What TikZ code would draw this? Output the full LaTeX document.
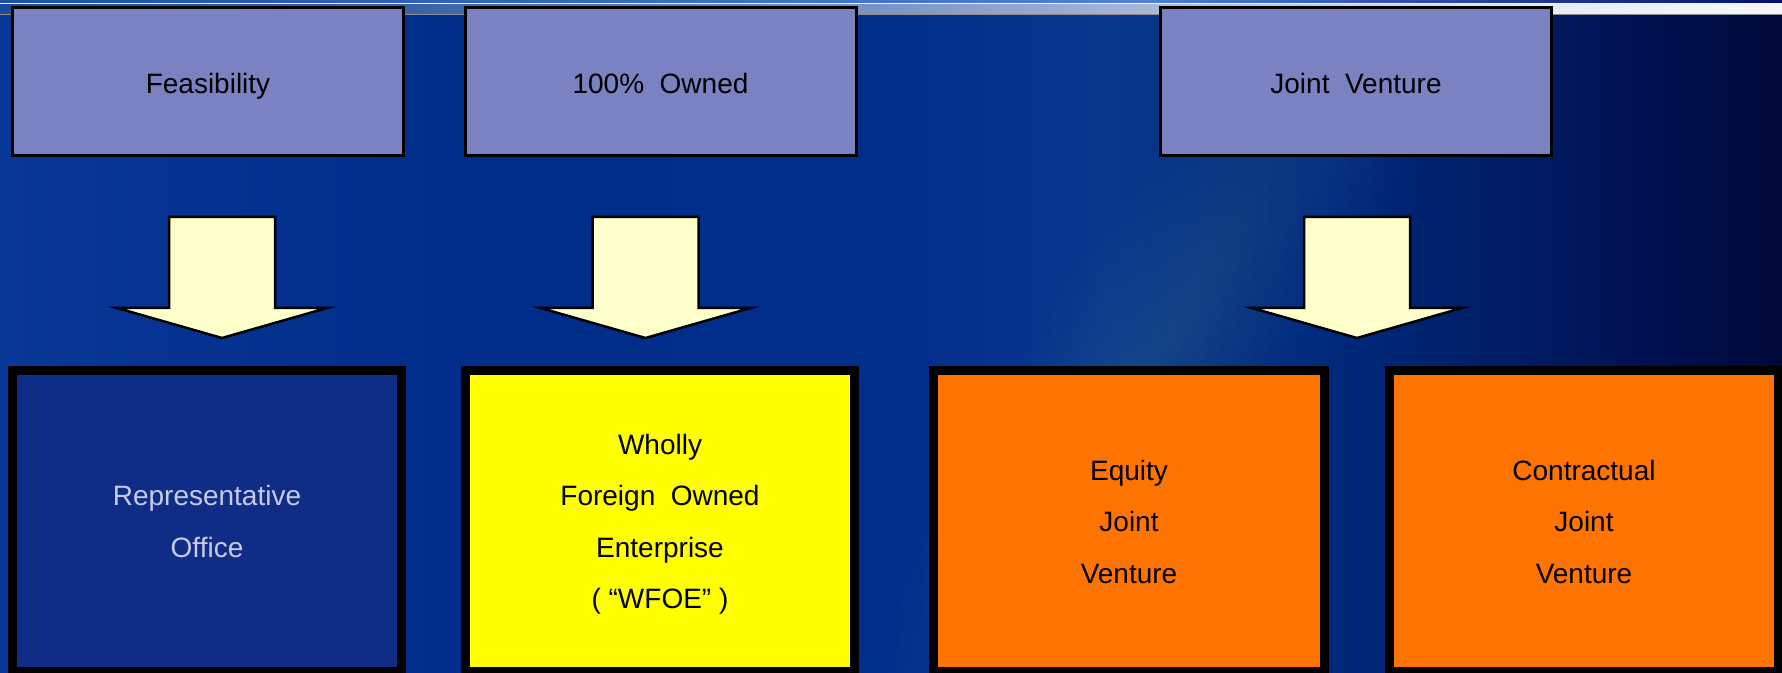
\documentclass[tikz,border=0pt]{standalone}
\usepackage{fontspec}
\setmainfont{Liberation Sans}
\definecolor{bg0}{HTML}{0A3896}
\definecolor{bg1}{HTML}{002C8A}
\definecolor{bg2}{HTML}{022E8B}
\definecolor{bg3}{HTML}{08388C}
\definecolor{bg4}{HTML}{00297A}
\definecolor{bg5}{HTML}{001C64}
\definecolor{bg6}{HTML}{001050}
\definecolor{bg7}{HTML}{000838}
\definecolor{tb0}{HTML}{1D4FAE}
\definecolor{tb1}{HTML}{4F7FD6}
\definecolor{tb2}{HTML}{00106E}
\definecolor{bd0}{HTML}{1A4AA0}
\definecolor{bd1}{HTML}{3860A8}
\definecolor{bd2}{HTML}{7890C4}
\definecolor{bd3}{HTML}{A8B8D8}
\definecolor{bd4}{HTML}{E8ECF4}
\definecolor{bd5}{HTML}{F4F6FA}
\definecolor{topfill}{HTML}{7B82C1}
\definecolor{arrowfill}{HTML}{FFFFCC}
\definecolor{repfill}{HTML}{0F2D86}
\definecolor{reptext}{HTML}{C8CAE8}
\definecolor{wfoefill}{HTML}{FFFF00}
\definecolor{jvfill}{HTML}{FF7300}
\pgfdeclarehorizontalshading{bgshade}{100bp}{color(0bp)=(bg0); color(25bp)=(bg0); color(37.5bp)=(bg1); color(50bp)=(bg2); color(56bp)=(bg3); color(62.5bp)=(bg4); color(67.5bp)=(bg5); color(71.5bp)=(bg6); color(75bp)=(bg7); color(100bp)=(bg7)}
\pgfdeclarehorizontalshading{titleshade}{100bp}{color(0bp)=(tb0); color(25bp)=(tb0); color(57bp)=(tb1); color(75bp)=(tb2); color(100bp)=(tb2)}
\pgfdeclarehorizontalshading{bandshade}{100bp}{color(0bp)=(bd0); color(25bp)=(bd0); color(36bp)=(bd1); color(49bp)=(bd2); color(57.5bp)=(bd3); color(69bp)=(bd4); color(75bp)=(bd5); color(100bp)=(bd5)}
\begin{document}
\begin{tikzpicture}[x=0.5pt,y=-0.5pt,
  topbox/.style={draw=black, line width=1.5pt, fill=topfill, minimum width=195.5pt, minimum height=74pt, inner sep=0pt, text height=12pt, text depth=0pt, font=\fontsize{14}{17}\selectfont},
  botbox/.style={draw=black, line width=4.5pt, minimum width=194.5pt, minimum height=150.5pt, inner sep=0pt, align=center, text depth=0pt, font=\fontsize{14}{25.75}\selectfont},
  arrowshape/.style={draw=black, line width=1.25pt, fill=arrowfill, line join=miter}]
\useasboundingbox (0,0) rectangle (1782,673);
\clip (0,0) rectangle (1782,673);
% background
\shade[shading=bgshade] (0,0) rectangle (1782,673);
\begin{scope}[shift={(1180,320)}, rotate=57]
  \foreach \i in {1,...,14}{
    \fill[white, fill opacity=0.008] (0,0) ellipse ({40*\i} and {8*\i});
  }
\end{scope}
% top strip
\shade[shading=titleshade] (0,0) rectangle (1782,3);
\fill[white!80!blue!30] (0,3) rectangle (1782,5);
\shade[shading=bandshade] (0,5) rectangle (1782,14);
\fill[black!45] (0,14) rectangle (1782,15.5);
% top boxes
\node[topbox] (feas) at (208,81.5) {Feasibility};
\node[topbox] (owned) at (660.5,81.5) {100\%\ \ Owned};
\node[topbox] (jv) at (1356,81.5) {Joint\ \ Venture};
% bottom boxes
\node[botbox, fill=repfill, text=reptext, text height=36.45pt] (rep) at (207,521) {Representative\\Office};
\node[botbox, fill=wfoefill, text height=87.95pt] (wfoe) at (660,521) {Wholly\\Foreign\ \ Owned\\Enterprise\\( “WFOE” )};
\node[botbox, fill=jvfill, minimum width=195.5pt, text height=62.2pt] (ejv) at (1129,521) {Equity\\Joint\\Venture};
\node[botbox, fill=jvfill, text height=62.2pt] (cjv) at (1584,521) {Contractual\\Joint\\Venture};
% block arrows
\foreach \cx/\nm in {222/a1, 645.5/a2, 1357/a3}{
  \coordinate (\nm) at (\cx,217);
  \begin{scope}[shift={(\nm)}]
    \draw[arrowshape] (-53,0) -- (53,0) -- (53,91) -- (105,91) -- (0,121) -- (-105,91) -- (-53,91) -- cycle;
  \end{scope}
}
\end{tikzpicture}
\end{document}
